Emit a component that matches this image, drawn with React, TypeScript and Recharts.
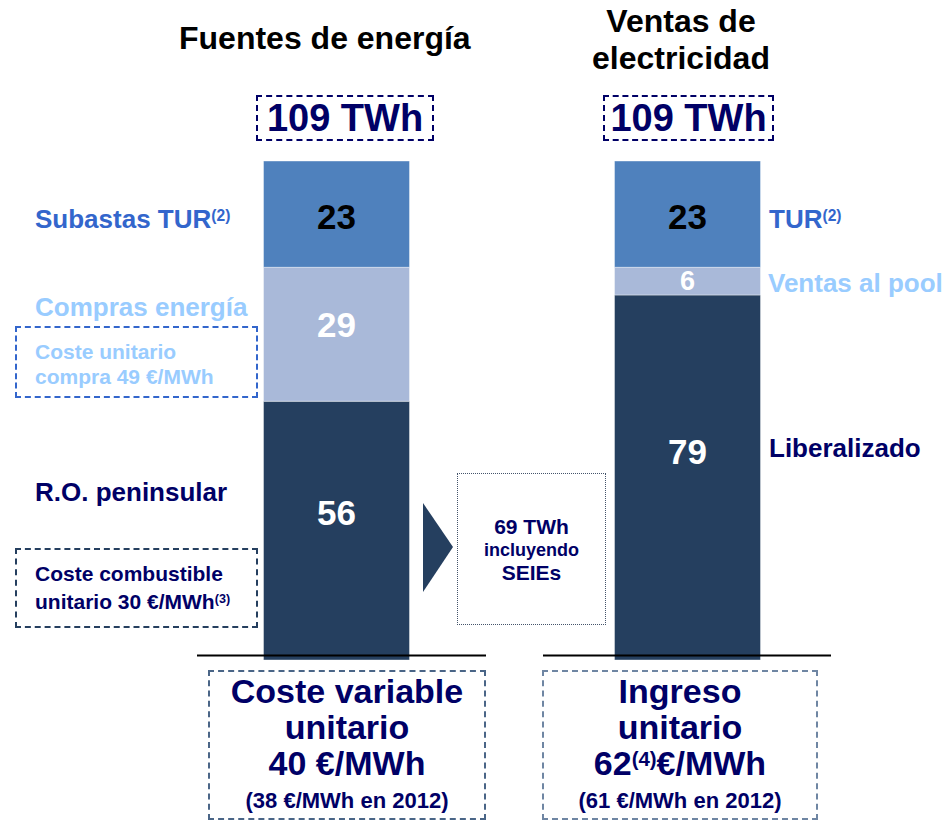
import React from "react";
import { BarChart, Bar, XAxis, YAxis, LabelList } from "recharts";

// TWh por bloque, de abajo arriba
const categories = ["Fuentes de energía", "Ventas de electricidad"];
const baseValues = [56, 79]; // R.O. peninsular / Liberalizado
const middleValues = [29, 6]; // Compras energía / Ventas al pool
const topValues = [23, 23]; // Subastas TUR / TUR
const totals = ["109 TWh", "109 TWh"];

const NAVY = "#000066";
const DARK = "#253F5F";
const MID = "#4F81BD";
const LIGHT = "#A9B9D9";
const BLUE_TXT = "#3366CC";
const LIGHT_TXT = "#99CCFF";

const FONT = "'Liberation Sans', Arial, sans-serif";

const data = categories.map((name, i) => ({
  name,
  base: baseValues[i],
  middle: middleValues[i],
  top: topValues[i],
}));

// etiqueta de valor dentro del bloque; frac = posición vertical relativa
const makeLabel = (color: string, frac: number) => (props: any) => {
  const { x, y, width, height, value } = props;
  const small = height < 40;
  const fs = small ? 27 : 35;
  return (
    <text
      x={x + width / 2}
      y={y + height * (small ? 0.5 : frac)}
      textAnchor="middle"
      dominantBaseline="central"
      fill={color}
      fontSize={fs}
      fontWeight="bold"
      fontFamily={FONT}
    >
      {value}
    </text>
  );
};

const abs = (left: number, top: number, extra: React.CSSProperties = {}): React.CSSProperties => ({
  position: "absolute",
  left,
  top,
  fontFamily: FONT,
  fontWeight: "bold",
  whiteSpace: "nowrap",
  lineHeight: 1,
  ...extra,
});

// superíndice que no altera la altura de la línea
const Sup = ({ children }: { children: React.ReactNode }) => (
  <span style={{ fontSize: "0.6em", position: "relative", top: "-0.45em", lineHeight: 0 }}>{children}</span>
);

export default function App() {
  return (
    <div style={{ position: "absolute", left: 0, top: 0, width: 949, height: 821, background: "#fff", overflow: "hidden" }}>
      <BarChart
        width={949}
        height={821}
        data={data}
        margin={{ top: 161, right: 86.5, bottom: 161, left: 160.5 }}
        style={{ position: "absolute", left: 0, top: 0 }}
      >
        <XAxis dataKey="name" hide />
        <YAxis hide domain={[0, 108]} />
        <Bar dataKey="base" stackId="s" fill={DARK} stroke="#ffffff" strokeOpacity={0.4} barSize={146} isAnimationActive={false}>
          <LabelList dataKey="base" content={makeLabel("#fff", 0.43)} />
        </Bar>
        <Bar dataKey="middle" stackId="s" fill={LIGHT} stroke="#ffffff" strokeOpacity={0.4} barSize={146} isAnimationActive={false}>
          <LabelList dataKey="middle" content={makeLabel("#fff", 0.43)} />
        </Bar>
        <Bar dataKey="top" stackId="s" fill={MID} stroke="#ffffff" strokeOpacity={0.4} barSize={146} isAnimationActive={false}>
          <LabelList dataKey="top" content={makeLabel("#000", 0.52)} />
        </Bar>
      </BarChart>

      {/* líneas base y flecha */}
      <svg width={949} height={821} style={{ position: "absolute", left: 0, top: 0, pointerEvents: "none" }}>
        <line x1={197} x2={486} y1={655.5} y2={655.5} stroke="#000" strokeWidth={2} />
        <line x1={543} x2={831} y1={655.5} y2={655.5} stroke="#000" strokeWidth={2} />
        <polygon points="423,503 453,547 423,592" fill={DARK} />
      </svg>

      {/* títulos */}
      <div style={abs(179, 22, { fontSize: 32 })}>Fuentes de energía</div>
      <div style={abs(571, 3, { fontSize: 32, width: 220, textAlign: "center", lineHeight: "37px" })}>
        Ventas de
        <br />
        electricidad
      </div>

      {/* totales */}
      {[256, 603].map((left, i) => (
        <div
          key={left}
          style={abs(left, 95, {
            width: i === 0 ? 178 : 171,
            height: 46,
            boxSizing: "border-box",
            border: `2px dashed ${NAVY}`,
            color: NAVY,
            fontSize: 38,
            textAlign: "center",
            lineHeight: "42px",
          })}
        >
          {totals[i]}
        </div>
      ))}

      {/* etiquetas izquierda */}
      <div style={abs(35, 206, { fontSize: 26, color: BLUE_TXT })}>
        Subastas TUR<Sup>(2)</Sup>
      </div>
      <div style={abs(35, 294, { fontSize: 26, color: LIGHT_TXT })}>Compras energía</div>
      <div
        style={abs(15, 326, {
          width: 243,
          height: 72,
          boxSizing: "border-box",
          border: `2px dashed ${BLUE_TXT}`,
          color: LIGHT_TXT,
          fontSize: 21,
          padding: "11px 0 0 18px",
          lineHeight: "25px",
        })}
      >
        Coste unitario
        <br />
        compra 49 €/MWh
      </div>
      <div style={abs(35, 479, { fontSize: 26, color: NAVY })}>R.O. peninsular</div>
      <div
        style={abs(15, 548, {
          width: 243,
          height: 80,
          boxSizing: "border-box",
          border: `2px dashed ${DARK}`,
          color: NAVY,
          fontSize: 21,
          padding: "10px 0 0 18px",
          lineHeight: "28px",
        })}
      >
        Coste combustible
        <br />
        unitario 30 €/MWh<Sup>(3)</Sup>
      </div>

      {/* caja SEIEs */}
      <div
        style={abs(457, 473, {
          width: 149,
          height: 152,
          boxSizing: "border-box",
          border: "1px dotted #44546A",
          color: NAVY,
          textAlign: "center",
          paddingTop: 41,
        })}
      >
        <div style={{ fontSize: 21, lineHeight: "24px" }}>69 TWh</div>
        <div style={{ fontSize: 18, lineHeight: "22px" }}>incluyendo</div>
        <div style={{ fontSize: 21, lineHeight: "24px" }}>SEIEs</div>
      </div>

      {/* etiquetas derecha */}
      <div style={abs(769, 206, { fontSize: 26, color: BLUE_TXT })}>
        TUR<Sup>(2)</Sup>
      </div>
      <div style={abs(768, 270, { fontSize: 26, color: LIGHT_TXT })}>Ventas al pool</div>
      <div style={abs(769, 435, { fontSize: 26, color: NAVY })}>Liberalizado</div>

      {/* cajas inferiores */}
      <div
        style={abs(208, 670, {
          width: 278,
          height: 150,
          boxSizing: "border-box",
          border: "2px dashed #4A6587",
          color: NAVY,
          textAlign: "center",
          paddingTop: 1,
        })}
      >
        <div style={{ fontSize: 34, lineHeight: "36px" }}>Coste variable</div>
        <div style={{ fontSize: 34, lineHeight: "36px" }}>unitario</div>
        <div style={{ fontSize: 34, lineHeight: "36px" }}>40 €/MWh</div>
        <div style={{ fontSize: 22, lineHeight: "36px", marginTop: 2 }}>(38 €/MWh en 2012)</div>
      </div>
      <div
        style={abs(542, 670, {
          width: 276,
          height: 150,
          boxSizing: "border-box",
          border: "2px dashed #6F86A3",
          color: NAVY,
          textAlign: "center",
          paddingTop: 1,
        })}
      >
        <div style={{ fontSize: 34, lineHeight: "36px" }}>Ingreso</div>
        <div style={{ fontSize: 34, lineHeight: "36px" }}>unitario</div>
        <div style={{ fontSize: 34, lineHeight: "36px" }}>
          62<Sup>(4)</Sup>€/MWh
        </div>
        <div style={{ fontSize: 22, lineHeight: "36px", marginTop: 2 }}>(61 €/MWh en 2012)</div>
      </div>
    </div>
  );
}
